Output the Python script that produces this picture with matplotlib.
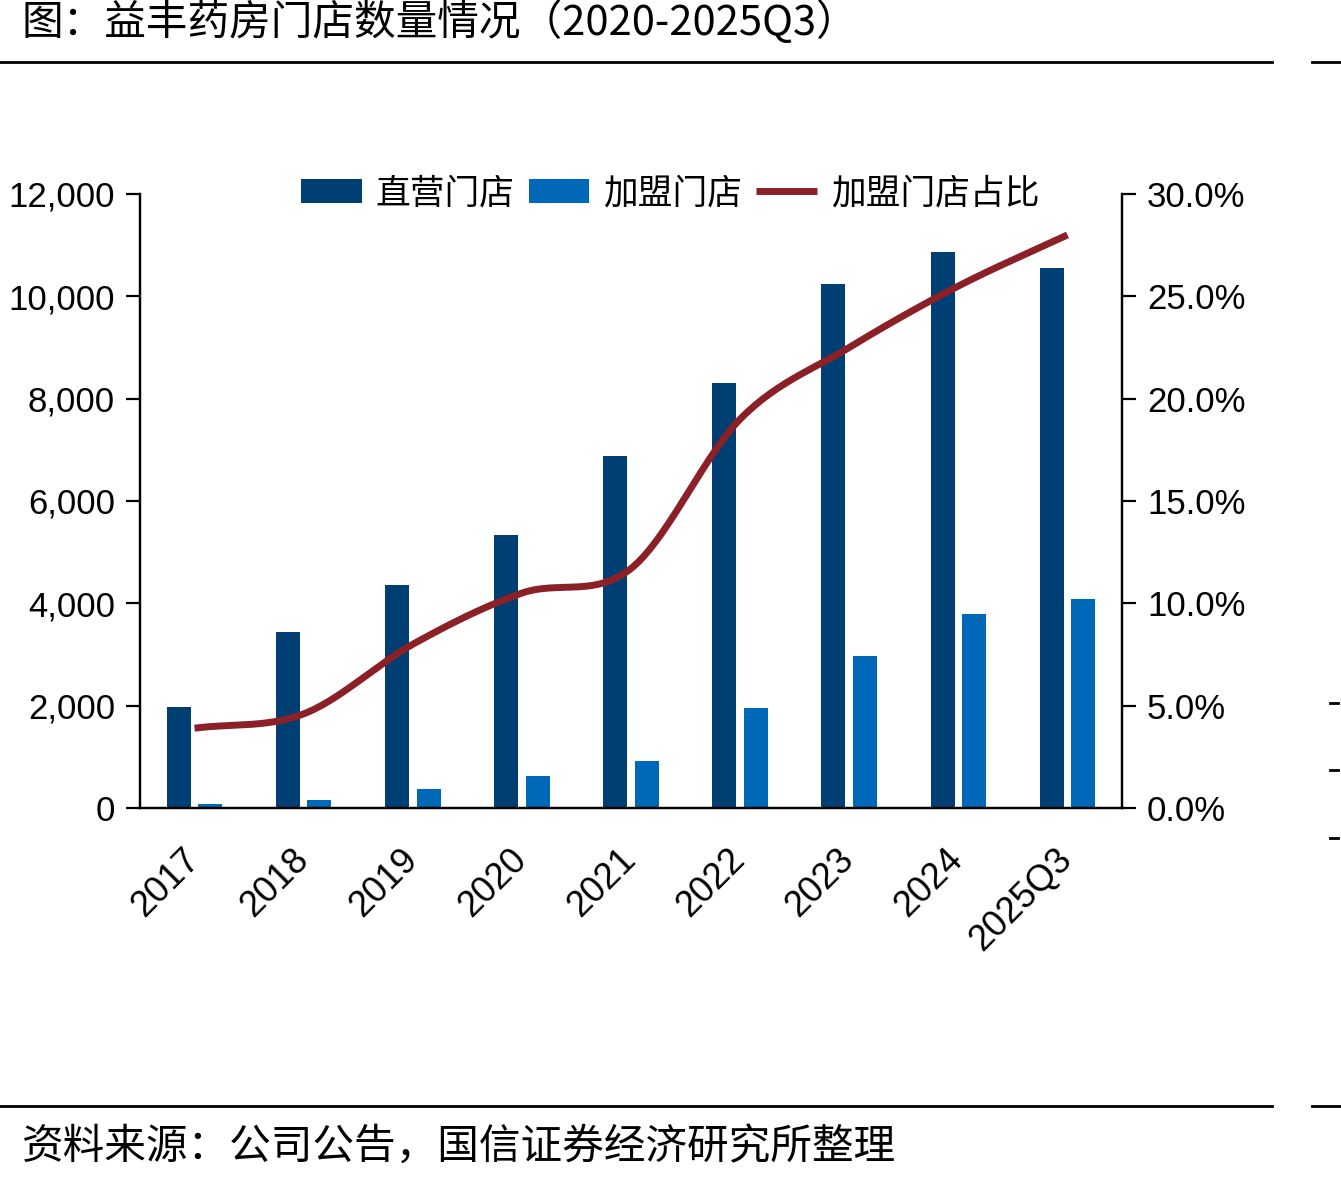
"""益丰药房门店数量情况 chart (直营/加盟门店 + 加盟占比)."""

import numpy as np
import matplotlib
matplotlib.use("Agg")
import matplotlib.pyplot as plt
from matplotlib.lines import Line2D
from matplotlib.ticker import FuncFormatter
from matplotlib.transforms import ScaledTranslation

plt.rcParams["font.family"] = ["Liberation Sans", "Noto Sans CJK SC", "DejaVu Sans"]

years = ["2017", "2018", "2019", "2020", "2021", "2022", "2023", "2024", "2025Q3"]
direct_stores = [1980, 3440, 4360, 5340, 6880, 8300, 10240, 10870, 10560]
franchise_stores = [80, 156, 370, 620, 920, 1950, 2970, 3790, 4080]
franchise_share = [3.9, 4.6, 8.0, 10.5, 11.7, 19.0, 22.5, 25.5, 28.0]

DIRECT = "#003f73"
FRANCHISE = "#0068b8"
SHARE = "#8b2027"
CJK = ["Noto Sans CJK SC", "DejaVu Sans"]


def smooth(xs, ys, n=30):
    # Catmull-Rom curve through the points, like a smoothed office chart line
    xs = np.asarray(xs, float)
    ys = np.asarray(ys, float)
    px = np.concatenate([[2 * xs[0] - xs[1]], xs, [2 * xs[-1] - xs[-2]]])
    py = np.concatenate([[2 * ys[0] - ys[1]], ys, [2 * ys[-1] - ys[-2]]])
    t = np.linspace(0, 1, n)
    out_x, out_y = [], []
    for i in range(1, len(px) - 2):
        for p, out in ((px, out_x), (py, out_y)):
            p0, p1, p2, p3 = p[i - 1], p[i], p[i + 1], p[i + 2]
            seg = 0.5 * (2 * p1 + (-p0 + p2) * t + (2 * p0 - 5 * p1 + 4 * p2 - p3) * t ** 2
                         + (-p0 + 3 * p1 - 3 * p2 + p3) * t ** 3)
            out.extend(seg if i == 1 else seg[1:])
    return np.array(out_x), np.array(out_y)


fig = plt.figure(figsize=(13.41, 11.82), dpi=100)
ax = fig.add_axes([0.1044, 0.3164, 0.7323, 0.5195])
ax2 = ax.twinx()

x = np.arange(len(years))
w = 0.22
b1 = ax.bar(x - 0.145, direct_stores, w, color=DIRECT, zorder=2)
b2 = ax.bar(x + 0.145, franchise_stores, w, color=FRANCHISE, zorder=2)
sx, sy = smooth(x, franchise_share)
ln, = ax2.plot(sx, sy, color=SHARE, lw=5, solid_capstyle="butt")

ax.set_xlim(-0.5, len(years) - 0.5)
ax.set_ylim(0, 12000)
ax2.set_ylim(0, 30)
ax.set_yticks(range(0, 12001, 2000))
ax2.set_yticks(range(0, 31, 5))
ax.yaxis.set_major_formatter(FuncFormatter(lambda v, _: f"{v:,.0f}"))
ax2.yaxis.set_major_formatter(FuncFormatter(lambda v, _: f"{v:.1f}%"))
ax.set_xticks(x)
ax.set_xticklabels([])
# rotated category labels, placed by hand so they sit like the original
shift = ScaledTranslation(-0.13, -0.34, fig.dpi_scale_trans)
for xi, lab in zip(x, years):
    ax.text(xi, 0, lab, transform=ax.get_xaxis_transform() + shift, rotation=45,
            rotation_mode="anchor", ha="right", va="top", fontsize=26)

for a in (ax, ax2):
    a.spines["top"].set_visible(False)
    for s in a.spines.values():
        s.set_linewidth(1.6)
ax.tick_params(axis="y", labelsize=25, length=10, width=1.6, pad=8)
ax2.tick_params(axis="y", labelsize=25, length=10, width=1.6, pad=8)
ax.tick_params(axis="x", length=0)

leg = ax.legend([b1, b2, ln], ["直营门店", "加盟门店", "加盟门店占比"],
                loc="center", bbox_to_anchor=(0.54, 1.0), ncol=3, frameon=False,
                prop={"family": CJK, "size": 25}, handlelength=1.75, handleheight=0.7,
                handletextpad=0.4, columnspacing=0.4, borderpad=0)

# title, rules and source note
fig.text(0.016, 1 - 22 / 1182, "图：益丰药房门店数量情况（2020-2025Q3）", family=CJK, fontsize=30,
         ha="left", va="center")
fig.text(0.016, 1 - 1147 / 1182, "资料来源：公司公告，国信证券经济研究所整理", family=CJK, fontsize=30,
         ha="left", va="center")
for y in (1 - 62 / 1182, 1 - 1106 / 1182):
    fig.add_artist(Line2D([0, 1272 / 1341], [y, y], color="black", lw=2))
    fig.add_artist(Line2D([1312 / 1341, 1], [y, y], color="black", lw=2))
# edge of the neighbouring chart
for y in (703, 770, 838):
    fig.add_artist(Line2D([1330 / 1341, 1338 / 1341], [1 - y / 1182] * 2, color="black", lw=2))

fig.savefig("out.png", dpi=100)
